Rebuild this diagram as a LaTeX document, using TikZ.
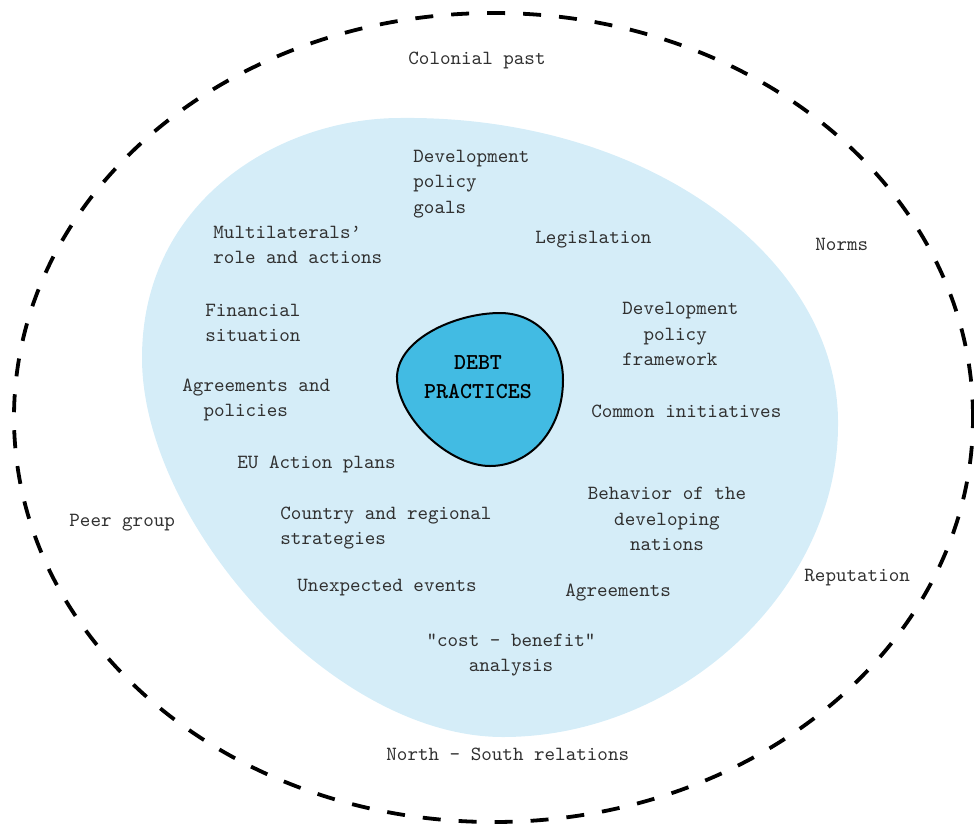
\documentclass[tikz,border=0pt]{standalone}
\usepackage{fontspec}
\usepackage{tikz}
\definecolor{PaleBlue}{HTML}{D5EDF8}
\definecolor{DebtBlue}{HTML}{42BBE3}
\definecolor{InkGray}{HTML}{303030}

\begin{document}
\begin{tikzpicture}[x=0.5pt,y=-0.5pt,
factor/.style={text=InkGray,inner sep=0pt,font=\ttfamily\fontsize{10.05}{12.75}\selectfont},
ring/.style={dash pattern=on 9pt off 9pt,line width=1.9pt},
core/.style={draw=black,line width=1pt,fill=DebtBlue}]
\useasboundingbox (0,0) rectangle (974,825);
% outer context ring
\draw[ring] (493.5,417.5) ellipse [x radius=239.75pt,y radius=202.25pt];
% inner field
\fill[PaleBlue] (400,118) .. controls (650,115) and (840,260) .. (838,425)
  .. controls (838,590) and (680,737) .. (503,737)
  .. controls (330,737) and (142,520) .. (142,358)
  .. controls (142,200) and (280,118) .. (400,118) -- cycle;
% core
\draw[core] (500,313) .. controls (535,313) and (563,340) .. (563,380)
  .. controls (563,430) and (530,466) .. (490,466)
  .. controls (450,466) and (400,420) .. (397,380)
  .. controls (395,340) and (455,313) .. (500,313) -- cycle;
\node[factor,font=\ttfamily\bfseries\fontsize{11.4}{14.5}\selectfont,text=black,align=center] (debt) at (478,377) {DEBT\\PRACTICES};
% inner factors
\node[factor,anchor=west,align=left] (devgoals) at (413,184) {Development\\policy\\goals};
\node[factor,anchor=west,align=left] (multilat) at (213,245) {Multilaterals’\\role and actions};
\node[factor,anchor=west] (legis) at (535,240) {Legislation};
\node[factor,anchor=west,align=left] (finance) at (205,323) {Financial\\situation};
\node[factor,anchor=west,align=left] (devframe) at (622,334) {Development\\\hspace*{1.05em}policy\\framework};
\node[factor,anchor=west,align=left] (agreepol) at (182,400) {Agreements and\\\hspace*{1.05em}policies};
\node[factor,anchor=west] (common) at (591,411) {Common initiatives};
\node[factor,anchor=west] (euplans) at (237,464) {EU Action plans};
\node[factor,align=center] (behavior) at (667,519) {Behavior of the\\developing\\nations};
\node[factor,anchor=west,align=left] (country) at (280,528) {Country and regional\\strategies};
\node[factor,anchor=west] (unexpected) at (297,588) {Unexpected events};
\node[factor,anchor=west] (agreements) at (565,593) {Agreements};
\node[factor,align=center] (costben) at (511,655) {\symbol{34}cost - benefit\symbol{34}\\analysis};
% outer factors
\node[factor] (colonial) at (477,60) {Colonial past};
\node[factor,anchor=west] (norms) at (815,244) {Norms};
\node[factor,anchor=west] (peer) at (69,523) {Peer group};
\node[factor,anchor=west] (reputation) at (804,578) {Reputation};
\node[factor,anchor=west] (northsouth) at (386,754) {North - South relations};
\end{tikzpicture}
\end{document}
